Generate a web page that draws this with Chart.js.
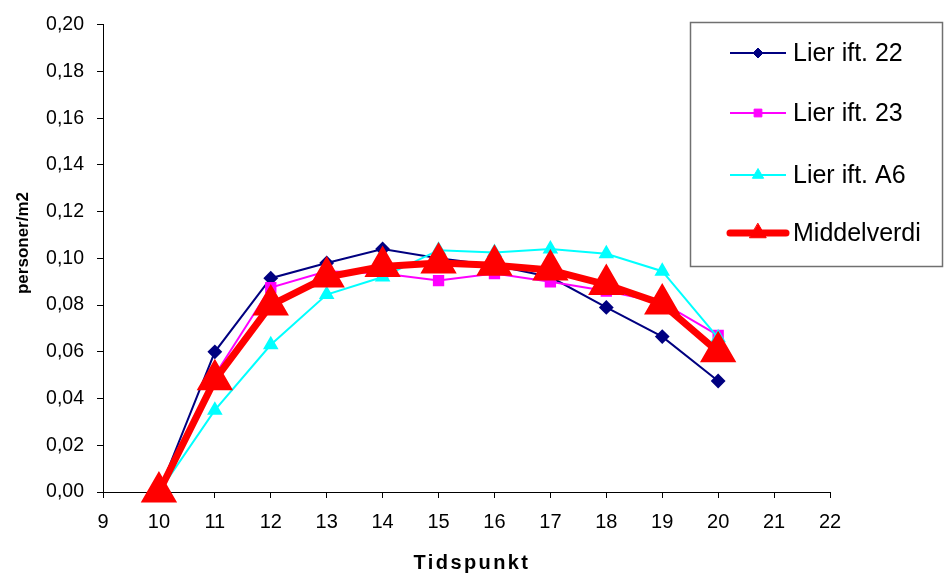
<!doctype html>
<html>
<head>
	<meta charset="UTF-8">
	<title>personer/m2</title>
	<script src="https://cdn.jsdelivr.net/npm/chart.js@4/dist/chart.umd.min.js"></script>
	<style>
		body { margin: 0; background: #fff; }
		#holder { width: 944px; height: 575px; position: relative; }
	</style>
</head>
<body>
<div id="holder">
	<canvas id="chart-area"></canvas>
</div>
<script>
	// tidspunkt
	var hours = [10, 11, 12, 13, 14, 15, 16, 17, 18, 19, 20];
	var seriesNames = ['Lier ift. 22', 'Lier ift. 23', 'Lier ift. A6', 'Middelverdi'];

	var lier22 = [0, 0.060, 0.0915, 0.098, 0.104, 0.100, 0.097, 0.092, 0.079, 0.0665, 0.0475];
	var lier23 = [0, 0.050, 0.0875, 0.0945, 0.0935, 0.0905, 0.0935, 0.090, 0.086, 0.081, 0.067];
	var lierA6 = [0, 0.035, 0.063, 0.0845, 0.092, 0.1035, 0.1025, 0.104, 0.102, 0.0945, 0.066];
	var middel = [0, 0.048, 0.080, 0.092, 0.0965, 0.098, 0.097, 0.095, 0.0888, 0.0805, 0.060];

	var xTitle = 'Tidspunkt';
	var yTitle = 'personer/m2';

	var FONT = "'Liberation Sans', Arial, sans-serif";

	function pts(vals) {
		return hours.map(function (h, i) { return { x: h, y: vals[i] }; });
	}

	// legend + axis titles drawn by hand (excel-ish look)
	var overlay = {
		id: 'overlay',
		afterDraw: function (chart) {
			var ctx = chart.ctx;
			ctx.save();

			// y title
			ctx.fillStyle = '#000';
			ctx.font = 'bold 17px ' + FONT;
			ctx.textAlign = 'center';
			ctx.textBaseline = 'middle';
			ctx.translate(23, 243);
			ctx.rotate(-Math.PI / 2);
			ctx.fillText(yTitle, 0, 0);
			ctx.setTransform(1, 0, 0, 1, 0, 0);

			// x title
			ctx.font = 'bold 20px ' + FONT;
			ctx.letterSpacing = '2.4px';
			ctx.fillText(xTitle, 472, 563);
			ctx.letterSpacing = '0px';

			// legend box
			ctx.fillStyle = '#fff';
			ctx.fillRect(690, 22, 253, 245);
			ctx.strokeStyle = '#707070';
			ctx.lineWidth = 1.5;
			ctx.strokeRect(690.5, 22.5, 252, 244);

			var rowY = [53, 113, 175, 233];
			var legendR = [5, 5.5, 6.5, 9.5];
			chart.data.datasets.forEach(function (ds, i) {
				var y = rowY[i];
				ctx.beginPath();
				ctx.strokeStyle = ds.borderColor;
				ctx.lineWidth = ds.borderWidth;
				ctx.lineCap = i === 3 ? 'round' : 'butt';
				ctx.moveTo(730, y);
				ctx.lineTo(786, y);
				ctx.stroke();
				ctx.fillStyle = ds.pointBackgroundColor;
				ctx.strokeStyle = ds.pointBorderColor;
				ctx.lineWidth = 1;
				Chart.helpers.drawPoint(ctx, { pointStyle: ds.pointStyle, radius: legendR[i], rotation: 0, borderWidth: 1 }, 758, y);
				ctx.fillStyle = '#000';
				ctx.font = '25px ' + FONT;
				ctx.textAlign = 'left';
				ctx.textBaseline = 'middle';
				ctx.fillText(ds.label, 793, y + 1);
			});
			ctx.restore();
		}
	};

	var config = {
		type: 'line',
		data: {
			datasets: [
				{
					label: seriesNames[0],
					data: pts(lier22),
					borderColor: '#000080',
					borderWidth: 2,
					pointStyle: 'rectRot',
					pointRadius: 6,
					pointBackgroundColor: '#000080',
					pointBorderColor: '#000080',
					order: 4
				},
				{
					label: seriesNames[1],
					data: pts(lier23),
					borderColor: '#ff00ff',
					borderWidth: 2,
					pointStyle: 'rect',
					pointRadius: 6.6,
					pointBackgroundColor: '#ff00ff',
					pointBorderColor: '#ff00ff',
					order: 3
				},
				{
					label: seriesNames[2],
					data: pts(lierA6),
					borderColor: '#00ffff',
					borderWidth: 2,
					pointStyle: 'triangle',
					pointRadius: 7,
					pointBackgroundColor: '#00ffff',
					pointBorderColor: '#00ffff',
					order: 2
				},
				{
					label: seriesNames[3],
					data: pts(middel),
					borderColor: '#ff0000',
					borderWidth: 7,
					borderJoinStyle: 'round',
					pointStyle: 'triangle',
					pointRadius: 14,
					pointBackgroundColor: '#ff0000',
					pointBorderColor: '#ff0000',
					order: 1
				}
			]
		},
		options: {
			responsive: true,
			maintainAspectRatio: false,
			animation: false,
			clip: false,
			layout: { padding: { left: 0, top: 24, right: 114, bottom: 0 } },
			plugins: {
				legend: { display: false },
				tooltip: { enabled: false }
			},
			elements: { line: { tension: 0 } },
			scales: {
				x: {
					type: 'linear',
					min: 9,
					max: 22,
					afterFit: function (s) { s.height = 83; },
					grid: { drawOnChartArea: false, drawTicks: true, tickLength: 6, color: '#000' },
					border: { color: '#000', width: 1 },
					ticks: {
						stepSize: 1,
						padding: 12,
						color: '#000',
						font: { family: FONT, size: 20 }
					}
				},
				y: {
					min: 0,
					max: 0.2,
					afterFit: function (s) { s.width = 103; },
					grid: { drawOnChartArea: false, drawTicks: true, tickLength: 6, color: '#000' },
					border: { color: '#000', width: 1 },
					ticks: {
						stepSize: 0.02,
						padding: 13,
						color: '#000',
						font: { family: FONT, size: 19.5 },
						callback: function (v) { return v.toFixed(2).replace('.', ','); }
					}
				}
			}
		},
		plugins: [overlay]
	};

	var ctx = document.getElementById('chart-area').getContext('2d');
	window.myLine = new Chart(ctx, config);
</script>
</body>
</html>
